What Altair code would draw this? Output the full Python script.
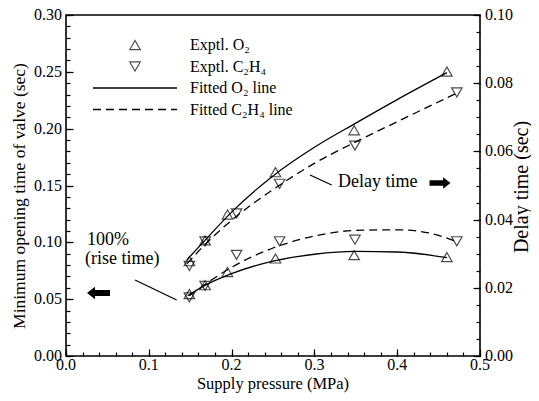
import altair as alt
import pandas as pd

FONT = "Liberation Serif"

# ---------------- data ----------------
# supply pressure (MPa) of the experimental points
p_o2 = [0.149, 0.168, 0.195, 0.253, 0.348, 0.460]
p_c2h4 = [0.149, 0.168, 0.206, 0.258, 0.349, 0.472]
# 100% rise time -> minimum opening time of valve (left axis, sec)
rise_o2 = [0.0545, 0.0623, 0.0739, 0.0858, 0.0887, 0.0870]
rise_c2h4 = [0.0516, 0.0617, 0.0890, 0.1009, 0.1023, 0.1009]
# delay time (right axis, sec)
delay_o2 = [0.0278, 0.0339, 0.0415, 0.0539, 0.0662, 0.0834]
delay_c2h4 = [0.0264, 0.0336, 0.0418, 0.0505, 0.0617, 0.0773]

# fitted curves
fit_rise_o2_p = [0.147, 0.17, 0.20, 0.25, 0.30, 0.35, 0.40, 0.46]
fit_rise_o2 = [0.053, 0.063, 0.0725, 0.0835, 0.0895, 0.092, 0.0915, 0.0865]
fit_rise_c2h4_p = [0.149, 0.17, 0.20, 0.25, 0.30, 0.35, 0.40, 0.44, 0.472]
fit_rise_c2h4 = [0.053, 0.064, 0.078, 0.095, 0.1055, 0.1105, 0.111, 0.108, 0.1005]
fit_delay_o2_p = [0.146, 0.17, 0.20, 0.25, 0.30, 0.35, 0.40, 0.46]
fit_delay_o2 = [0.0282, 0.0345, 0.0422, 0.0528, 0.0612, 0.0683, 0.0752, 0.0831]
fit_delay_c2h4_p = [0.146, 0.17, 0.20, 0.25, 0.30, 0.35, 0.40, 0.472]
fit_delay_c2h4 = [0.0270, 0.0332, 0.0398, 0.0488, 0.0565, 0.0628, 0.0687, 0.0771]

# tick values
x_major = [0.0, 0.1, 0.2, 0.3, 0.4, 0.5]
x_minor = [0.0, 0.02, 0.04, 0.06, 0.08, 0.1, 0.12, 0.14, 0.16, 0.18, 0.2, 0.22, 0.24,
           0.26, 0.28, 0.3, 0.32, 0.34, 0.36, 0.38, 0.4, 0.42, 0.44, 0.46, 0.48, 0.5]
yl_major = [0.0, 0.05, 0.10, 0.15, 0.20, 0.25, 0.30]
yl_minor = [0.0, 0.01, 0.02, 0.03, 0.04, 0.05, 0.06, 0.07, 0.08, 0.09, 0.10, 0.11, 0.12,
            0.13, 0.14, 0.15, 0.16, 0.17, 0.18, 0.19, 0.20, 0.21, 0.22, 0.23, 0.24,
            0.25, 0.26, 0.27, 0.28, 0.29, 0.30]
yr_major = [0.0, 0.02, 0.04, 0.06, 0.08, 0.10]
yr_minor = [0.0, 0.005, 0.01, 0.015, 0.02, 0.025, 0.03, 0.035, 0.04, 0.045, 0.05, 0.055,
            0.06, 0.065, 0.07, 0.075, 0.08, 0.085, 0.09, 0.095, 0.10]

legend_labels = ["Exptl. O\u2082", "Exptl. C\u2082H\u2084", "Fitted O\u2082 line", "Fitted C\u2082H\u2084 line"]
x_title = "Supply pressure (MPa)"
yl_title = "Minimum opening time of valve (sec)"
yr_title = "Delay time (sec)"

# ---------------- scales / axes ----------------
W, H = 414, 341
XS = alt.Scale(domain=[0, 0.5], nice=False, zero=False)
YLS = alt.Scale(domain=[0, 0.3], nice=False, zero=False)
YRS = alt.Scale(domain=[0, 0.1], nice=False, zero=False)

MAJ = 7
MIN = 4


def tick_axis(orient, values, size):
    # inward ticks: axis line shifted inside by the tick length, ticks reach the frame
    return alt.Axis(orient=orient, values=values, labels=False, title=None, tickSize=size,
                    offset=-size, domain=False, grid=False, tickColor="black", tickWidth=1.2)


PT = dict(filled=False, color="black", size=110, strokeWidth=1.2)


def points(xs, ys, shape, yscale, xaxis=None, yaxis=None):
    df = pd.DataFrame({"p": xs, "t": ys})
    return alt.Chart(df).mark_point(shape=shape, **PT).encode(
        x=alt.X("p:Q", scale=XS, axis=xaxis),
        y=alt.Y("t:Q", scale=yscale, axis=yaxis),
    )


def curve(xs, ys, yscale, dash):
    df = pd.DataFrame({"p": xs, "t": ys})
    props = dict(color="black", strokeWidth=1.3, interpolate="monotone")
    if dash:
        props["strokeDash"] = [8, 5]
    return alt.Chart(df).mark_line(**props).encode(
        x=alt.X("p:Q", scale=XS, axis=None),
        y=alt.Y("t:Q", scale=yscale, axis=None),
    )


def tick_labels_x(values, fmt, ypix, size=16):
    df = pd.DataFrame({"v": values})
    return alt.Chart(df).mark_text(font=FONT, fontSize=size, color="black", align="center",
                                   baseline="middle").encode(
        x=alt.X("v:Q", scale=XS, axis=None), y=alt.value(ypix),
        text=alt.Text("v:Q", format=fmt))


def tick_labels_y(values, fmt, yscale, xpix, align, size=16):
    df = pd.DataFrame({"v": values})
    return alt.Chart(df).mark_text(font=FONT, fontSize=size, color="black", align=align,
                                   baseline="middle").encode(
        y=alt.Y("v:Q", scale=yscale, axis=None), x=alt.value(xpix),
        text=alt.Text("v:Q", format=fmt))


one = pd.DataFrame({"a": [0]})


def label(text, x, y, size=16, align="left", angle=0):
    return alt.Chart(one).mark_text(text=text, font=FONT, fontSize=size, color="black",
                                    align=align, baseline="middle", angle=angle).encode(
        x=alt.value(x), y=alt.value(y))


def seg(x1, y1, x2, y2, dash=None):
    props = dict(color="black", strokeWidth=1.3)
    if dash:
        props["strokeDash"] = dash
    return alt.Chart(one).mark_rule(**props).encode(
        x=alt.value(x1), y=alt.value(y1), x2=alt.value(x2), y2=alt.value(y2))


def sym(shape, x, y, size, filled=False):
    if filled:
        m = alt.Chart(one).mark_point(shape=shape, filled=True, color="black", size=size, opacity=1)
    else:
        m = alt.Chart(one).mark_point(shape=shape, **PT)
    return m.encode(x=alt.value(x), y=alt.value(y))


LEFT_ARROW = "M -1 0 L -0.3 -0.55 L -0.3 -0.27 L 1 -0.27 L 1 0.27 L -0.3 0.27 L -0.3 0.55 Z"
RIGHT_ARROW = "M 1 0 L 0.3 -0.55 L 0.3 -0.27 L -1 -0.27 L -1 0.27 L 0.3 0.27 L 0.3 0.55 Z"

T = 4  # overlay items shift because the plot top is 4 px lower than measured
layers = [
    # data + tick carriers
    points(p_o2, rise_o2, "triangle-up", YLS, tick_axis("bottom", x_major, MAJ), tick_axis("left", yl_major, MAJ)),
    points(p_c2h4, rise_c2h4, "triangle-down", YLS, tick_axis("bottom", x_minor, MIN), tick_axis("left", yl_minor, MIN)),
    points(p_o2, delay_o2, "triangle-up", YRS, None, tick_axis("right", yr_major, MAJ)),
    points(p_c2h4, delay_c2h4, "triangle-down", YRS, None, tick_axis("right", yr_minor, MIN)),
    curve(fit_rise_o2_p, fit_rise_o2, YLS, False),
    curve(fit_rise_c2h4_p, fit_rise_c2h4, YLS, True),
    curve(fit_delay_o2_p, fit_delay_o2, YRS, False),
    curve(fit_delay_c2h4_p, fit_delay_c2h4, YRS, True),
    # tick labels and axis titles
    tick_labels_x(x_major, ".1f", H + 9),
    tick_labels_y(yl_major, ".2f", YLS, -4, "right"),
    tick_labels_y(yr_major, ".2f", YRS, W + 5, "left"),
    label(x_title, W / 2, H + 28, 16.5, "center"),
    label(yl_title, -46, 181, 17.5, "center", 270),
    label(yr_title, 456, 172, 20, "center", 270),
    # legend
    sym("triangle-up", 69, 34 - T, 110),
    sym("triangle-down", 69, 55.5 - T, 110),
    seg(27, 77 - T, 111, 77 - T),
    seg(27, 98.5 - T, 111, 98.5 - T, [8, 5]),
    label(legend_labels[0], 124, 34 - T, 16),
    label(legend_labels[1], 124, 55.5 - T, 16),
    label(legend_labels[2], 124, 77 - T, 16),
    label(legend_labels[3], 124, 98.5 - T, 16),
    # annotations
    label("100%", 21, 229 - T, 18),
    label("(rise time)", 19, 248 - T, 18),
    seg(69, 269 - T, 110.7, 289 - T),
    sym(LEFT_ARROW, 32.5, 282 - T, 529, filled=True),
    label("Delay time", 272, 171 - T, 18),
    seg(244, 164 - T, 265.7, 174 - T),
    sym(RIGHT_ARROW, 374, 172 - T, 441, filled=True),
]

chart = alt.layer(*layers).resolve_scale(x="independent", y="independent").properties(
    width=W, height=H,
    padding={"left": 58, "top": 7, "right": 51, "bottom": 37},
    autosize=alt.AutoSizeParams(type="none"),
).configure(background="white", font=FONT).configure_view(stroke="black", strokeWidth=1.6)

chart.save("out.html", embed_options={"renderer": "svg", "actions": False})
